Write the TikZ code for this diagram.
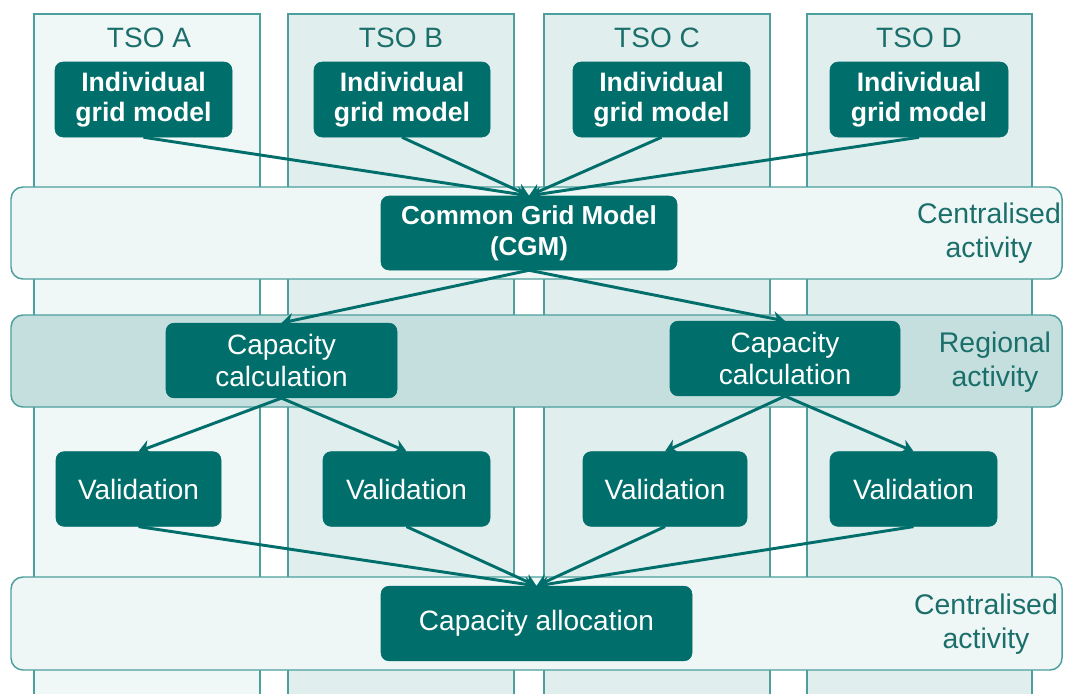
\documentclass[tikz,border=0pt]{standalone}
\usepackage{fontspec}
\setmainfont{Liberation Sans}
\usetikzlibrary{arrows.meta}
\definecolor{tealbox}{HTML}{006E6A}
\definecolor{lanebd}{HTML}{4C9F9C}
\definecolor{laneA}{HTML}{F0F7F7}
\definecolor{laneB}{HTML}{E0EEEE}
\definecolor{bandL}{HTML}{EFF6F6}
\definecolor{bandD}{HTML}{C4DFDE}
\definecolor{txtc}{HTML}{1B6F6B}
\begin{document}
\begin{tikzpicture}[x=0.75pt,y=-0.75pt,
  lane/.style={draw=lanebd, line width=1.1pt},
  band/.style={draw=lanebd, line width=1.1pt, rounded corners=9pt},
  lanelbl/.style={text=txtc, font=\fontsize{21}{24}\selectfont},
  sidelbl/.style={text=txtc, align=center, font=\fontsize{21.3}{26}\selectfont},
  box/.style={fill=tealbox, draw=tealbox, rounded corners=6pt, inner sep=0pt, text=white, align=center},
  boxb/.style={box, minimum height=56.25pt, font=\bfseries\fontsize{20}{22.5}\selectfont},
  boxr/.style={box, minimum height=56pt, font=\fontsize{21}{24.5}\selectfont},
  arr/.style={draw=tealbox, line width=2.2pt, -{Stealth[length=9pt,width=11pt,inset=3pt]}}
]
\useasboundingbox (0,0) rectangle (1066,693);
\clip (0,0) rectangle (1066,693);
\fill[white] (0,0) rectangle (1066,693);
% lanes
\draw[lane, fill=laneA] (34,14) rectangle (260,710);
\draw[lane, fill=laneB] (288,14) rectangle (514,710);
\draw[lane, fill=laneB] (544,14) rectangle (770,710);
\draw[lane, fill=laneB] (807,14) rectangle (1032,710);
\node[lanelbl] (tA) at (149,38) {TSO A};
\node[lanelbl] (tB) at (401,38) {TSO B};
\node[lanelbl] (tC) at (657,38) {TSO C};
\node[lanelbl] (tD) at (919,38) {TSO D};
% bands
\draw[band, fill=bandL] (11,187) rectangle (1062,279);
\draw[band, fill=bandD] (11,315) rectangle (1062,407);
\draw[band, fill=bandL] (11,577) rectangle (1062,670);
\node[sidelbl] (s1) at (989,233) {Centralised\\activity};
\node[sidelbl] (s2) at (995,362) {Regional\\activity};
\node[sidelbl] (s3) at (986,624) {Centralised\\activity};
% boxes
\node[boxb, minimum width=132.75pt] (igmA) at (143.5,99.5) {Individual\\grid model};
\node[boxb, minimum width=132pt] (igmB) at (402,99.5) {Individual\\grid model};
\node[boxb, minimum width=132.75pt] (igmC) at (661.5,99.5) {Individual\\grid model};
\node[boxb, minimum width=133.5pt] (igmD) at (919,99.5) {Individual\\grid model};
\node[boxb, minimum width=222pt, minimum height=55.5pt, font=\bfseries\fontsize{19.5}{23}\selectfont] (cgm) at (529,233) {Common Grid Model\\(CGM)};
\node[boxr, minimum width=173.25pt] (cc1) at (281.5,360.5) {Capacity\\calculation};
\node[boxr, minimum width=172.5pt] (cc2) at (785,358.5) {Capacity\\calculation};
\node[boxr, minimum width=123.75pt] (vA) at (138.5,489) {Validation};
\node[boxr, minimum width=125.25pt] (vB) at (406.5,489) {Validation};
\node[boxr, minimum width=123pt] (vC) at (665,489) {Validation};
\node[boxr, minimum width=125.25pt] (vD) at (913.5,489) {Validation};
\node[boxr, minimum width=233.25pt] (ca) at (536.5,623.5) {Capacity allocation};
% arrows
\foreach \s in {igmA,igmB,igmC,igmD} \draw[arr] (\s.south) -- (cgm.north);
\draw[arr] (cgm.south) -- (cc1.north);
\draw[arr] (cgm.south) -- (cc2.north);
\draw[arr] (cc1.south) -- (vA.north);
\draw[arr] (cc1.south) -- (vB.north);
\draw[arr] (cc2.south) -- (vC.north);
\draw[arr] (cc2.south) -- (vD.north);
\foreach \s in {vA,vB,vC,vD} \draw[arr] (\s.south) -- (ca.north);
\end{tikzpicture}
\end{document}
